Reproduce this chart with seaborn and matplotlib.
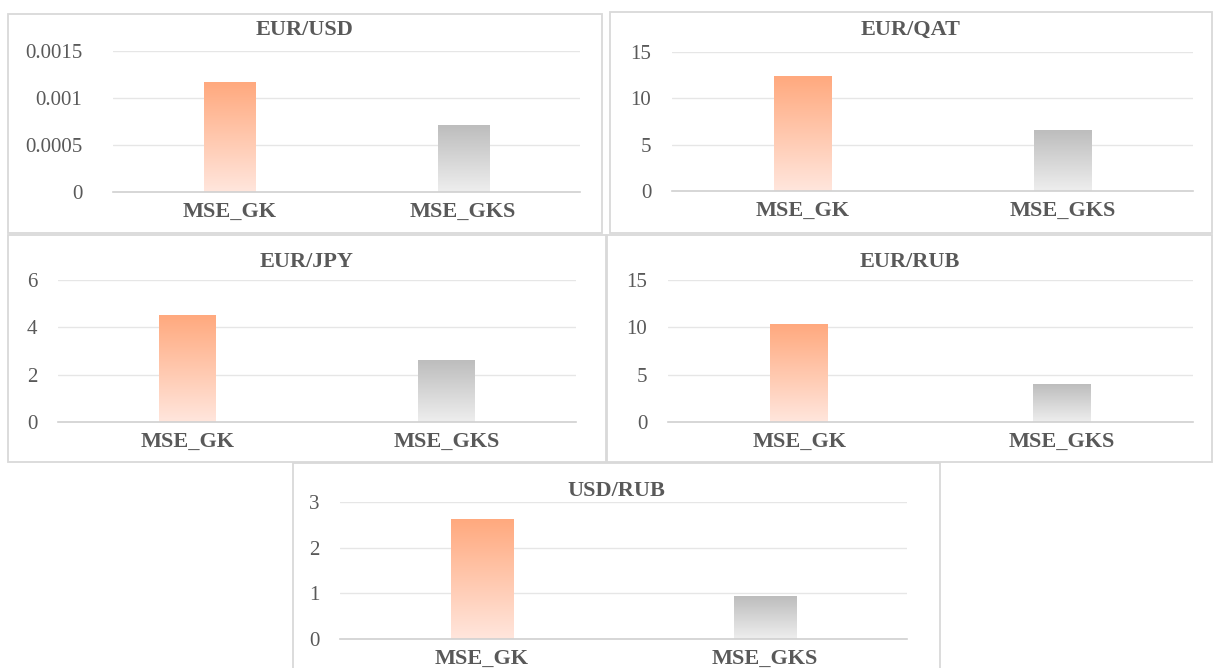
import numpy as np
import pandas as pd
import matplotlib
matplotlib.use('Agg')
import matplotlib.pyplot as plt
import seaborn as sns
from matplotlib.colors import LinearSegmentedColormap
from matplotlib.patches import Rectangle

# values
pairs = ['EUR/USD', 'EUR/QAT', 'EUR/JPY', 'EUR/RUB', 'USD/RUB']
metrics = ['MSE_GK', 'MSE_GKS']
mse_gk = [0.00117, 12.4, 4.52, 10.35, 2.61]
mse_gks = [0.00071, 6.5, 2.58, 4.0, 0.94]
y_ticks = [[0, 0.0005, 0.001, 0.0015],
           [0, 5, 10, 15],
           [0, 2, 4, 6],
           [0, 5, 10, 15],
           [0, 1, 2, 3]]

W, H = 1213, 668
# plot area and panel frame in pixels: (x0, y0, x1, y1), y from the top
plot_boxes = [(113, 51, 580, 192), (672, 52, 1193, 191), (58, 280, 576, 422),
              (668, 280, 1193, 422), (340, 502, 907, 639)]
frames = [(8, 14, 602, 233), (610, 12, 1212, 233), (8, 235, 606, 462),
          (607, 235, 1212, 462), (293, 463, 940, 675)]
title_y = [30, 30, 262, 262, 491]
tick_pad = [22, 15, 15, 15, 15]

gk_cols = ('#FFE6DD', '#FFA97E')
gks_cols = ('#EEEEEE', '#BDBDBD')
text_col = '#595959'

sns.set_style('white')
plt.rcParams['font.family'] = ['Liberation Serif', 'DejaVu Serif']


def px_rect(box):
    x0, y0, x1, y1 = box
    return [x0 / W, 1 - y1 / H, (x1 - x0) / W, (y1 - y0) / H]


def fill_gradient(ax, patch, bottom, top):
    x0, y0 = patch.get_x(), patch.get_y()
    w, h = patch.get_width(), patch.get_height()
    cmap = LinearSegmentedColormap.from_list('g', [bottom, top])
    grad = np.linspace(0, 1, 256).reshape(-1, 1)
    ax.imshow(grad, cmap=cmap, origin='lower', aspect='auto',
              extent=[x0, x0 + w, y0, y0 + h], zorder=2)
    patch.set_facecolor('none')
    patch.set_edgecolor('none')


fig = plt.figure(figsize=(W / 100, H / 100), dpi=100)

for i, pair in enumerate(pairs):
    # light frame round each chart
    fx = px_rect(frames[i])
    fig.patches.append(Rectangle((fx[0], fx[1]), fx[2], fx[3], transform=fig.transFigure,
                                 fill=False, edgecolor='#D9D9D9', linewidth=1.3))

    ax = fig.add_axes(px_rect(plot_boxes[i]))
    df = pd.DataFrame({'metric': metrics, 'value': [mse_gk[i], mse_gks[i]]})
    sns.barplot(data=df, x='metric', y='value', hue='metric', width=0.22,
                palette=[gk_cols[1], gks_cols[1]], legend=False, ax=ax, zorder=2)

    for patch, cols in zip(ax.patches, [gk_cols, gks_cols]):
        fill_gradient(ax, patch, cols[0], cols[1])

    ax.set_xlim(-0.5, 1.5)
    ax.set_ylim(y_ticks[i][0], y_ticks[i][-1])
    ax.set_yticks(y_ticks[i])
    ax.set_yticklabels(['{:g}'.format(t) for t in y_ticks[i]])
    ax.yaxis.grid(True, color='#E6E6E6', linewidth=1.0, zorder=0)
    ax.set_axisbelow(True)
    sns.despine(ax=ax, left=True, right=True, top=True)
    ax.spines['bottom'].set_color('#D0D0D0')
    ax.spines['bottom'].set_linewidth(1.2)
    ax.tick_params(axis='y', length=0, pad=tick_pad[i], labelsize=15, labelcolor=text_col)
    ax.tick_params(axis='x', length=0, pad=7, labelsize=16, labelcolor=text_col)
    for lab in ax.get_xticklabels():
        lab.set_fontweight('bold')
    ax.set_xlabel('')
    ax.set_ylabel('')

    fig.text((frames[i][0] + frames[i][2]) / 2 / W, 1 - title_y[i] / H, pair,
             ha='center', va='center', fontsize=16, fontweight='bold', color=text_col)

fig.savefig('out.png', dpi=100, facecolor='white')
